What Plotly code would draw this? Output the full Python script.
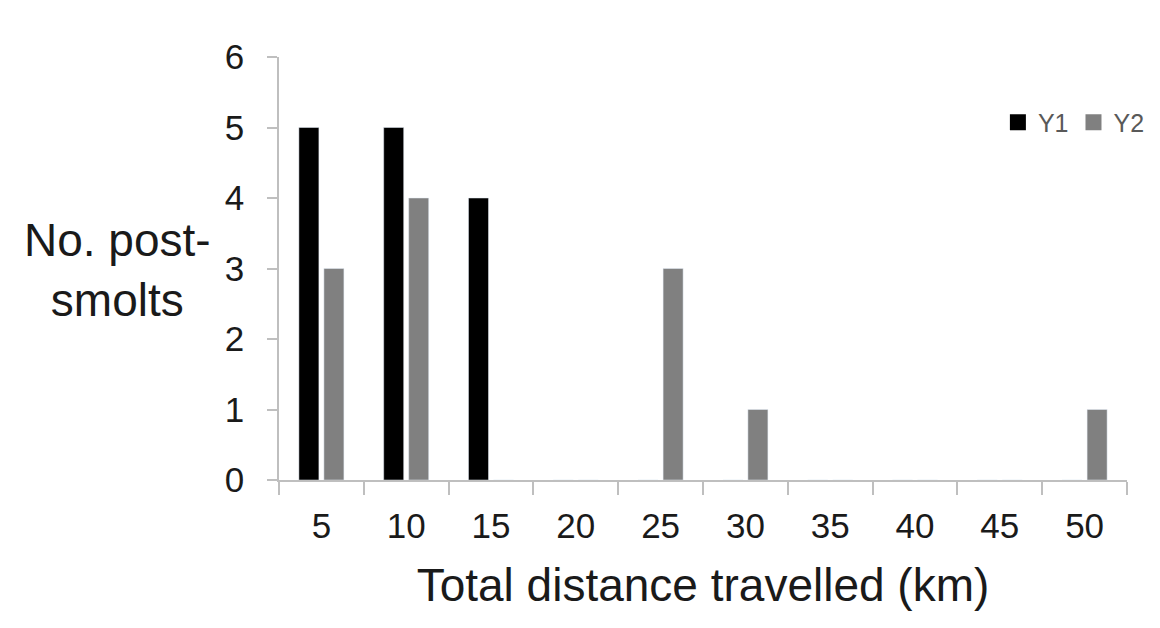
import plotly.graph_objects as go

# distance bins (km) and number of post-smolts per year
distance = ["5", "10", "15", "20", "25", "30", "35", "40", "45", "50"]
y1_counts = [5, 5, 4, 0, 0, 0, 0, 0, 0, 0]
y2_counts = [3, 4, 0, 0, 3, 1, 0, 0, 0, 1]

axis_grey = "#bfbfbf"
txt = "#1a1a1a"
c_y1 = "#000000"
c_y2 = "#808080"

fig = go.Figure()
fig.add_trace(go.Bar(x=distance, y=y1_counts, name="Y1", marker_color=c_y1, showlegend=False))
fig.add_trace(go.Bar(x=distance, y=y2_counts, name="Y2", marker_color=c_y2, showlegend=False))
# legend-only entries with larger square swatches
for nm, col in [("Y1", c_y1), ("Y2", c_y2)]:
    fig.add_trace(go.Scatter(x=[None], y=[None], mode="markers", name=nm,
                             marker=dict(symbol="square", size=16, color=col)))

fig.update_layout(
    width=1160, height=628,
    margin=dict(l=271, r=41, t=49, b=156),
    plot_bgcolor="white", paper_bgcolor="white",
    font=dict(family="Liberation Sans, Arial, sans-serif", color=txt),
    barmode="group", bargap=0.41, bargroupgap=0.2,
    legend=dict(
        orientation="h", x=1.027, xanchor="right", y=0.845, yanchor="middle",
        font=dict(size=25, color="#595959"), bgcolor="rgba(0,0,0,0)",
        itemwidth=30, tracegroupgap=0,
    ),
    xaxis=dict(
        type="category", showline=True, linecolor=axis_grey, linewidth=1.5,
        ticks="outside", tickson="boundaries", ticklen=13, tickcolor=axis_grey,
        tickwidth=1.5, tickfont=dict(size=35, color=txt), showgrid=False,
        ticklabelstandoff=14,
        title=dict(text="Total distance travelled (km)", font=dict(size=46, color=txt),
                   standoff=25),
    ),
    yaxis=dict(
        range=[0, 6], dtick=1, showline=True, linecolor=axis_grey, linewidth=1.5,
        ticks="outside", ticklen=10, tickcolor=axis_grey, tickwidth=1.5,
        tickfont=dict(size=35, color=txt), showgrid=False, zeroline=False,
        ticklabelstandoff=16,
    ),
)

fig.add_annotation(
    text="No. post-<br>smolts", xref="paper", yref="paper",
    x=-0.19, y=0.496, xanchor="center", yanchor="middle",
    showarrow=False, font=dict(size=46, color=txt), align="center",
)

fig.write_html("out.html")
